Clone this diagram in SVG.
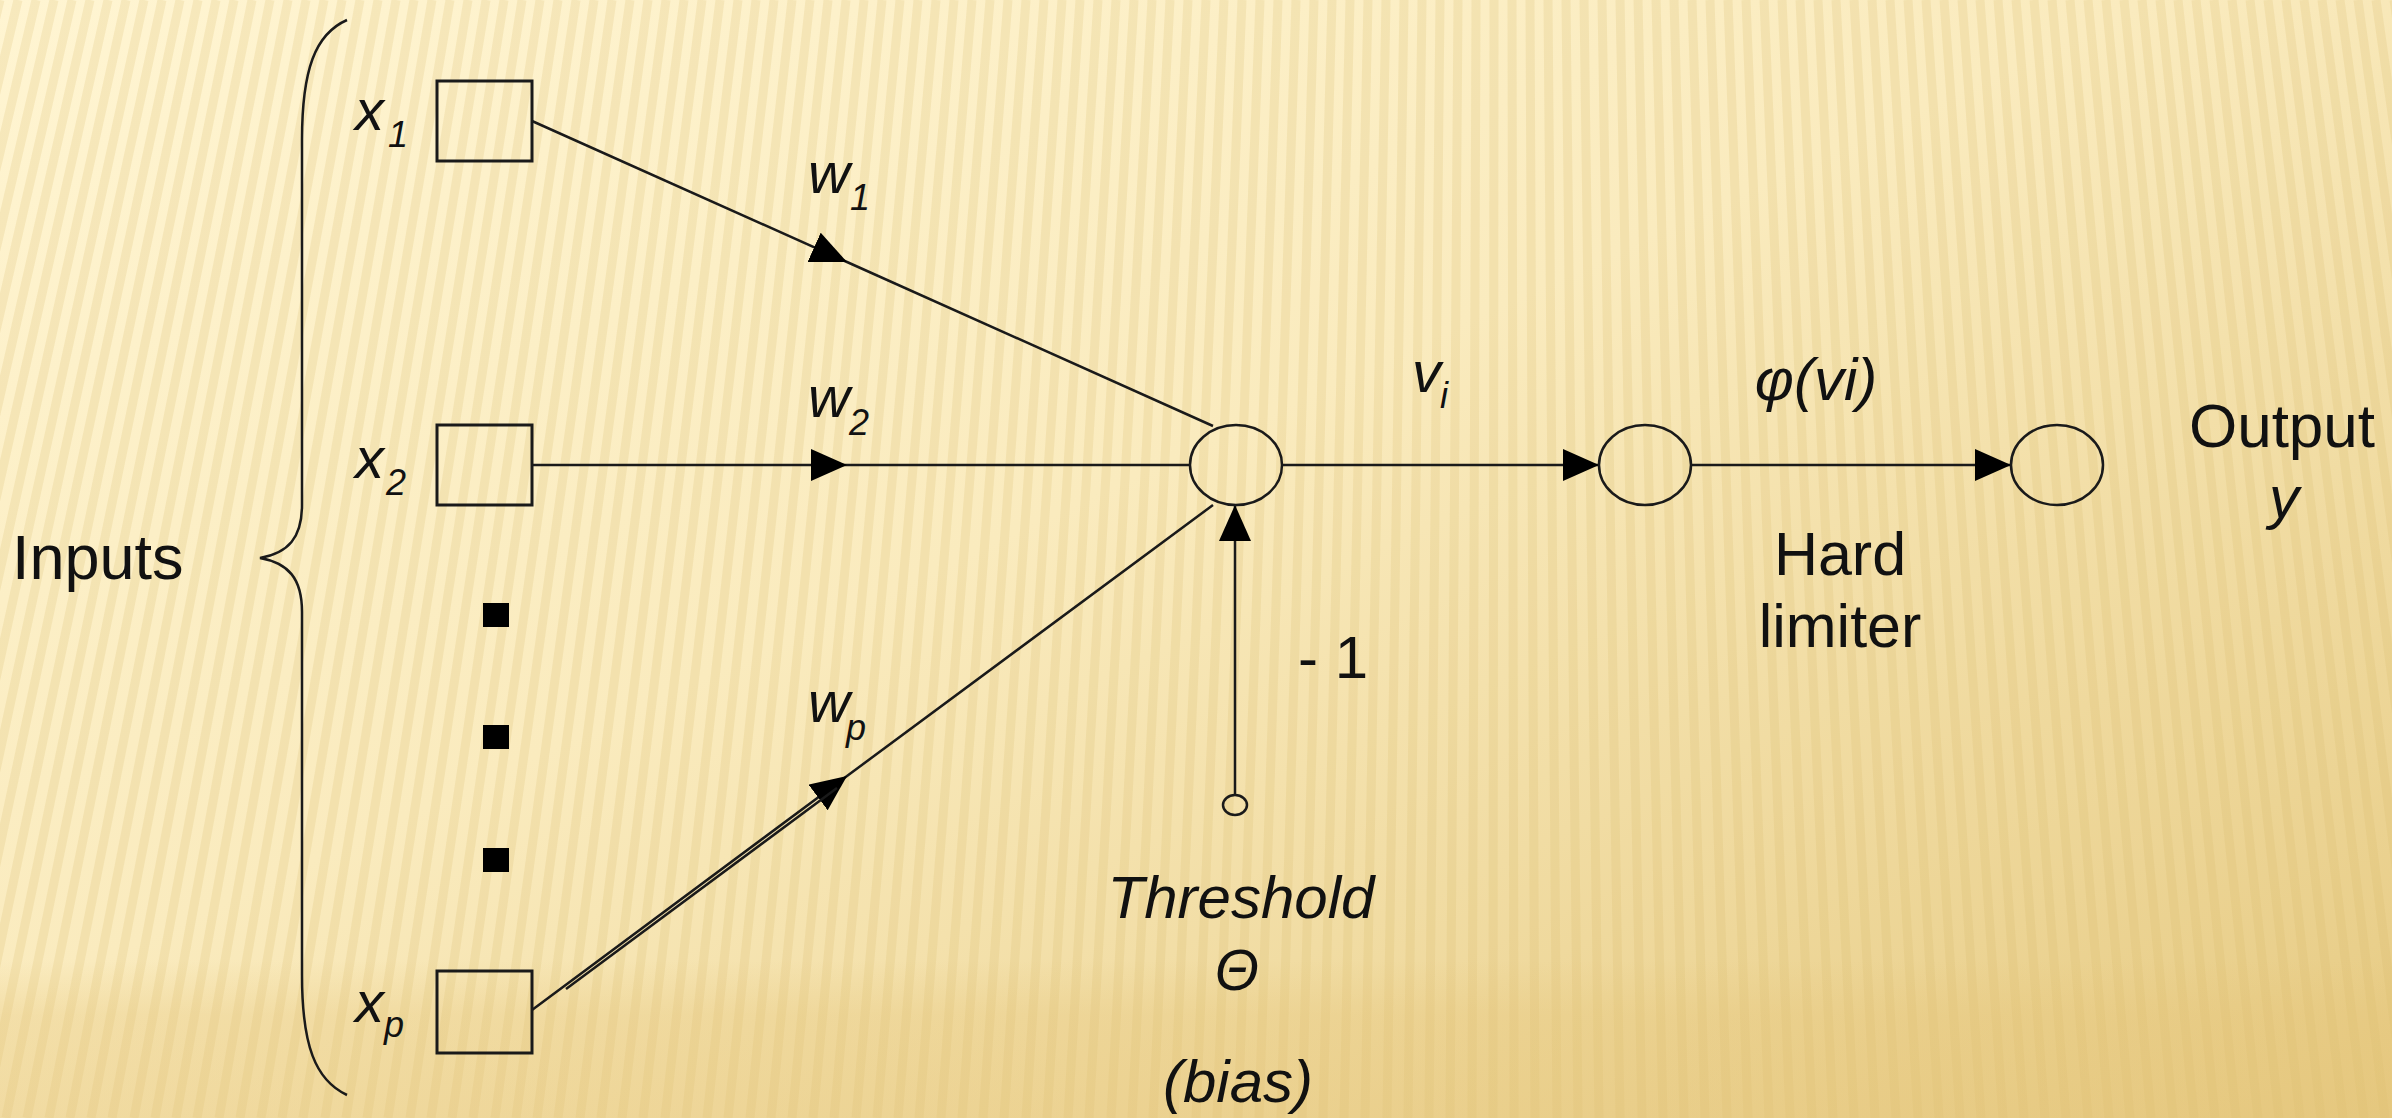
<svg xmlns="http://www.w3.org/2000/svg" width="2392" height="1118" viewBox="0 0 2392 1118">
<defs>
<linearGradient id="bg" x1="0" y1="0" x2="1" y2="1">
<stop offset="0" stop-color="#FFF5D2"/>
<stop offset="0.45" stop-color="#FAEBBE"/>
<stop offset="1" stop-color="#E6CA82"/>
</linearGradient>
<linearGradient id="band" x1="0" y1="0" x2="0" y2="1">
<stop offset="0" stop-color="#E4C377" stop-opacity="0"/>
<stop offset="0.35" stop-color="#E4C377" stop-opacity="0.3"/>
<stop offset="1" stop-color="#E4C377" stop-opacity="0.35"/>
</linearGradient>
<marker id="arr" markerUnits="userSpaceOnUse" viewBox="0 0 36 32" refX="36" refY="16" markerWidth="36" markerHeight="32" orient="auto">
<path d="M0,0 L36,16 L0,32 z" fill="#000"/>
</marker>
<style>
.ln{fill:none;stroke:#1a1a1a;stroke-width:2.5}
.bx{fill:none;stroke:#1a1a1a;stroke-width:3}
.nd{fill:none;stroke:#1a1a1a;stroke-width:2.5}
.t{font-family:"Liberation Sans",Arial,sans-serif;fill:#111}
.i{font-style:italic}
.m{text-anchor:middle}
</style>
</defs>
<g id="background">
<rect width="2392" height="1118" fill="url(#bg)"/>
<path fill="none" stroke="#D8B968" stroke-opacity="0.2" stroke-width="9" d="M0,0L-270,1118M18,0L-249,1118M36,0L-228,1118M54,0L-206,1118M72,0L-185,1118M90,0L-164,1118M108,0L-143,1118M126,0L-121,1118M144,0L-100,1118M162,0L-79,1118M180,0L-58,1118M198,0L-36,1118M216,0L-15,1118M234,0L6,1118M252,0L27,1118M270,0L49,1118M288,0L70,1118M306,0L91,1118M324,0L112,1118M342,0L134,1118M360,0L155,1118M378,0L176,1118M396,0L197,1118M414,0L219,1118M432,0L240,1118M450,0L261,1118M468,0L282,1118M486,0L303,1118M504,0L325,1118M522,0L346,1118M540,0L367,1118M558,0L388,1118M576,0L410,1118M594,0L431,1118M612,0L452,1118M630,0L473,1118M648,0L495,1118M666,0L516,1118M684,0L537,1118M702,0L558,1118M720,0L580,1118M738,0L601,1118M756,0L622,1118M774,0L643,1118M792,0L665,1118M810,0L686,1118M828,0L707,1118M846,0L728,1118M864,0L750,1118M882,0L771,1118M900,0L792,1118M918,0L813,1118M936,0L834,1118M954,0L856,1118M972,0L877,1118M990,0L898,1118M1008,0L919,1118M1026,0L941,1118M1044,0L962,1118M1062,0L983,1118M1080,0L1004,1118M1098,0L1026,1118M1116,0L1047,1118M1134,0L1068,1118M1152,0L1089,1118M1170,0L1111,1118M1188,0L1132,1118M1206,0L1153,1118M1224,0L1174,1118M1242,0L1196,1118M1260,0L1217,1118M1278,0L1238,1118M1296,0L1259,1118M1314,0L1281,1118M1332,0L1302,1118M1350,0L1323,1118M1368,0L1344,1118M1386,0L1365,1118M1404,0L1387,1118M1422,0L1408,1118M1440,0L1429,1118M1458,0L1450,1118M1476,0L1472,1118M1494,0L1493,1118M1512,0L1514,1118M1530,0L1535,1118M1548,0L1557,1118M1566,0L1578,1118M1584,0L1599,1118M1602,0L1620,1118M1620,0L1642,1118M1638,0L1663,1118M1656,0L1684,1118M1674,0L1705,1118M1692,0L1727,1118M1710,0L1748,1118M1728,0L1769,1118M1746,0L1790,1118M1764,0L1812,1118M1782,0L1833,1118M1800,0L1854,1118M1818,0L1875,1118M1836,0L1896,1118M1854,0L1918,1118M1872,0L1939,1118M1890,0L1960,1118M1908,0L1981,1118M1926,0L2003,1118M1944,0L2024,1118M1962,0L2045,1118M1980,0L2066,1118M1998,0L2088,1118M2016,0L2109,1118M2034,0L2130,1118M2052,0L2151,1118M2070,0L2173,1118M2088,0L2194,1118M2106,0L2215,1118M2124,0L2236,1118M2142,0L2258,1118M2160,0L2279,1118M2178,0L2300,1118M2196,0L2321,1118M2214,0L2343,1118M2232,0L2364,1118M2250,0L2385,1118M2268,0L2406,1118M2286,0L2428,1118M2304,0L2449,1118M2322,0L2470,1118M2340,0L2491,1118M2358,0L2512,1118M2376,0L2534,1118M2394,0L2555,1118"/>
<rect y="960" width="2392" height="158" fill="url(#band)"/>
</g>
<g id="connectors">
<polyline class="ln" points="532,121 847,262 1213,426" marker-mid="url(#arr)"/>
<polyline class="ln" points="532,465 847,465 1190,465" marker-mid="url(#arr)"/>
<polyline class="ln" points="532,1010 847,776 1213,505" marker-mid="url(#arr)"/>
<line class="ln" x1="566" y1="989" x2="837" y2="788" stroke-width="2"/>
<line class="ln" x1="1235" y1="795" x2="1235" y2="505" marker-end="url(#arr)"/>
<line class="ln" x1="1282" y1="465" x2="1599" y2="465" marker-end="url(#arr)"/>
<line class="ln" x1="1691" y1="465" x2="2011" y2="465" marker-end="url(#arr)"/>
</g>
<g id="inputs-brace">
<path class="ln" d="M347,20 C315,34 302,70 302,140 L302,505 C302,538 288,553 260,558 C288,563 302,578 302,612 L302,975 C302,1045 315,1080 347,1095"/>
<text class="t" x="12" y="579" font-size="63">Inputs</text>
</g>
<g id="input-x1">
<rect class="bx" x="437" y="81" width="95" height="80"/>
<text class="t i" x="355" y="130" font-size="58">x<tspan x="388" y="147" font-size="36">1</tspan></text>
</g>
<g id="input-x2">
<rect class="bx" x="437" y="425" width="95" height="80"/>
<text class="t i" x="355" y="478" font-size="58">x<tspan x="386" y="495" font-size="36">2</tspan></text>
</g>
<g id="ellipsis-dots">
<rect x="483" y="603" width="26" height="24" fill="#000"/>
<rect x="483" y="725" width="26" height="24" fill="#000"/>
<rect x="483" y="848" width="26" height="24" fill="#000"/>
</g>
<g id="input-xp">
<rect class="bx" x="437" y="971" width="95" height="82"/>
<text class="t i" x="355" y="1022" font-size="58">x<tspan x="384" y="1037" font-size="36">p</tspan></text>
</g>
<g id="weight-labels">
<text class="t i" x="808" y="193" font-size="58">w<tspan x="850" y="210" font-size="36">1</tspan></text>
<text class="t i" x="808" y="417" font-size="58">w<tspan x="849" y="435" font-size="36">2</tspan></text>
<text class="t i" x="808" y="722" font-size="58">w<tspan x="846" y="740" font-size="36">p</tspan></text>
</g>
<g id="summing-node">
<ellipse class="nd" cx="1236" cy="465" rx="46" ry="40"/>
<text class="t i" x="1412" y="392" font-size="58">v<tspan x="1440" y="408" font-size="36">i</tspan></text>
</g>
<g id="bias">
<ellipse class="nd" cx="1235" cy="805" rx="12" ry="10"/>
<text class="t" x="1298" y="678" font-size="60">- 1</text>
<text class="t i m" x="1241" y="918" font-size="60">Threshold</text>
<text class="t i m" x="1237" y="990" font-size="57">Θ</text>
<text class="t i m" x="1238" y="1102" font-size="60">(bias)</text>
</g>
<g id="hard-limiter">
<ellipse class="nd" cx="1645" cy="465" rx="46" ry="40"/>
<text class="t i m" x="1816" y="400" font-size="60">φ(vi)</text>
<text class="t m" x="1840" y="575" font-size="61">Hard</text>
<text class="t m" x="1840" y="647" font-size="61">limiter</text>
</g>
<g id="output">
<ellipse class="nd" cx="2057" cy="465" rx="46" ry="40"/>
<text class="t m" x="2282" y="447" font-size="62">Output</text>
<text class="t i m" x="2284" y="518" font-size="60">y</text>
</g>
</svg>
